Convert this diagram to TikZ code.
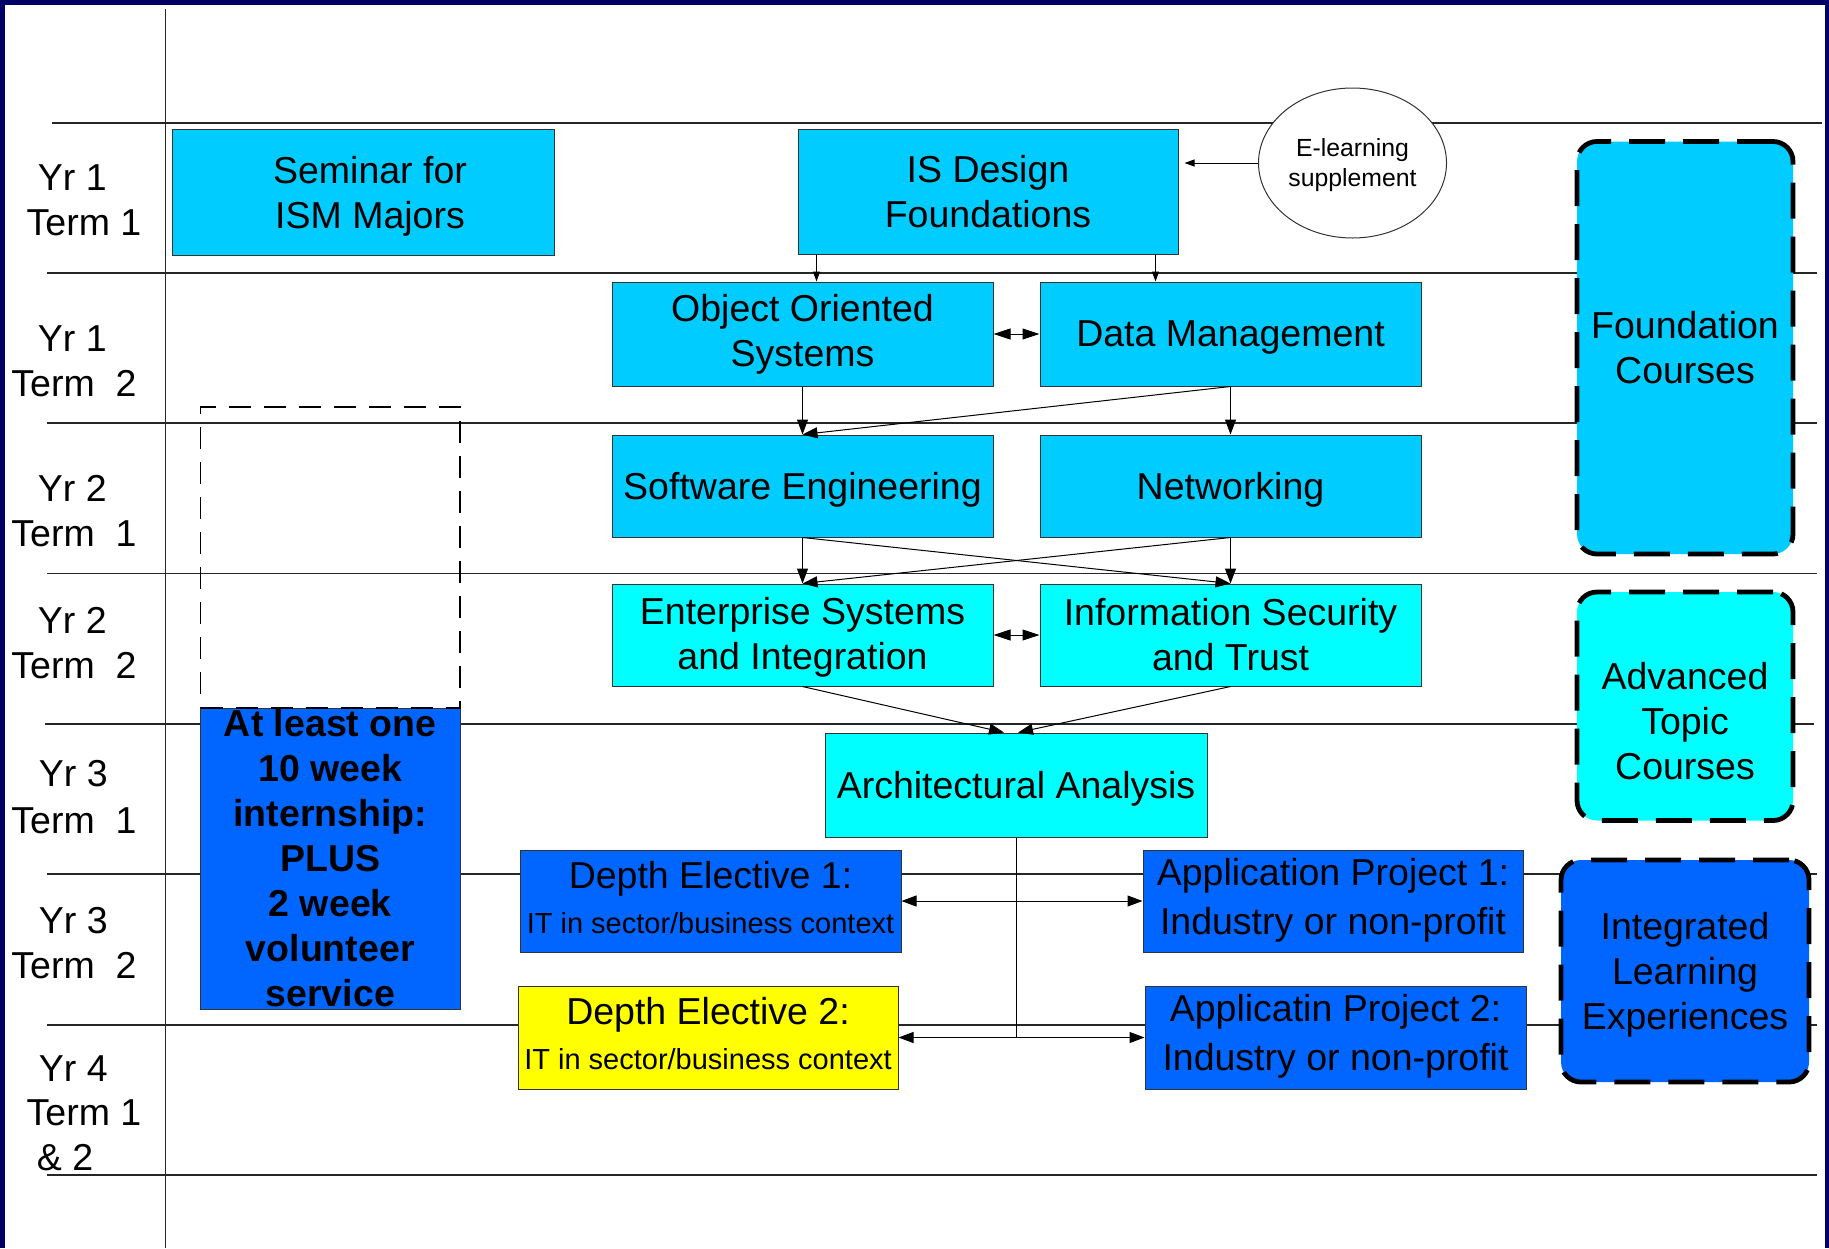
\documentclass[tikz,border=0pt]{standalone}
\usepackage{fontspec}
\setmainfont{Liberation Sans}
\usetikzlibrary{arrows.meta,shapes.geometric}
\definecolor{lblue}{HTML}{00CCFF}
\definecolor{cyanx}{HTML}{00FFFF}
\definecolor{bluex}{HTML}{0066FF}
\definecolor{yelx}{HTML}{FFFF00}
\definecolor{navyx}{HTML}{000066}
\newcommand\mainfs{\fontsize{18.75}{22.5}\selectfont}
\newcommand\smallfs{\fontsize{14.5}{24}\selectfont}
\newcommand\elfs{\fontsize{12.4}{15}\selectfont}
\tikzset{
  box/.style={draw=black!80, line width=0.5pt, inner sep=2pt, align=center, font=\mainfs},
  rbox/.style={draw=black, line width=2.4pt, dash pattern=on 18pt off 9pt, rounded corners=10pt, inner sep=2pt, align=center, font=\mainfs},
  hline/.style={draw=black!85, line width=0.9pt},
  conn/.style={draw=black, line width=0.5pt},
  arr/.style={conn, -{Triangle[length=7.5pt,width=5.5pt]}},
  darr/.style={conn, {Triangle[length=7.5pt,width=5.5pt]}-{Triangle[length=7.5pt,width=5.5pt]}},
  darrb/.style={conn, {Triangle[length=8.5pt,width=5.5pt]}-{Triangle[length=8.5pt,width=5.5pt]}},
  sarr/.style={conn, -{Triangle[length=5pt,width=3.5pt]}},
  lab/.style={anchor=base west, inner sep=0pt, font=\mainfs},
}
\begin{document}
\begin{tikzpicture}[x=0.5pt,y=-0.5pt]
\useasboundingbox (0,0) rectangle (1829,1248);
% frame
\fill[navyx] (0,0) rectangle (1829,1248);
\fill[white] (4.6,5) rectangle (1825,1248);
% grid lines
\draw[conn, draw=black!85] (165,9) -- (165,1248);
\draw[hline] (51.7,122.7) -- (1821.7,122.7);
\draw[hline] (47,272.7) -- (1816.7,272.7);
\draw[hline] (47,423.3) -- (1816.7,423.3);
\draw[hline] (47,573.5) -- (1816.7,573.5);
\draw[hline] (45,724) -- (1814,724);
\draw[hline] (47,874.3) -- (1816.7,874.3);
\draw[hline] (47,1025) -- (1816.7,1025);
\draw[hline] (47,1175.3) -- (1816.7,1175.3);
% left labels
\node[lab] (y1a) at (37.5,190.7) {Yr 1};
\node[lab] (t1a) at (26.3,235) {Term 1};
\node[lab] (y1b) at (37.5,351.7) {Yr 1};
\node[lab] (t1b) at (11,396.7) {Term\ \ 2};
\node[lab] (y2a) at (37.5,501.7) {Yr 2};
\node[lab] (t2a) at (11,546.7) {Term\ \ 1};
\node[lab] (y2b) at (37.5,633.3) {Yr 2};
\node[lab] (t2b) at (11,678.3) {Term\ \ 2};
\node[lab] (y3a) at (38.5,786.7) {Yr 3};
\node[lab] (t3a) at (11,833.3) {Term\ \ 1};
\node[lab] (y3b) at (38.5,933.3) {Yr 3};
\node[lab] (t3b) at (11,978.3) {Term\ \ 2};
\node[lab] (y4) at (38.5,1081.7) {Yr 4};
\node[lab] (t4) at (26.3,1125) {Term 1};
\node[lab] (t4b) at (36.5,1170) {\& 2};
% course boxes
\node[box, fill=lblue, minimum width=191pt, minimum height=63pt, text depth=0pt] (sem) at (363,192) {\hspace*{7pt}Seminar for\\\hspace*{7pt}ISM Majors};
\node[box, fill=lblue, minimum width=190pt, minimum height=62.5pt] (isd) at (988,191.5) {IS Design\\Foundations};
\node[draw=black!80, line width=0.5pt, fill=white, ellipse, minimum width=94pt, minimum height=75pt, inner sep=0pt, align=center, font=\elfs, text depth=0pt] (elearn) at (1352.5,163) {E-learning\\supplement};
\node[box, fill=lblue, minimum width=190.5pt, minimum height=52pt] (oo) at (802.5,334) {Object Oriented\\Systems};
\node[box, fill=lblue, minimum width=190.5pt, minimum height=52pt, text depth=0pt] (dm) at (1230.5,334) {Data Management};
\node[box, fill=lblue, minimum width=190.5pt, minimum height=51pt, text depth=0.5pt] (se) at (802.5,486) {Software Engineering};
\node[box, fill=lblue, minimum width=190.5pt, minimum height=51pt, text depth=0pt] (net) at (1230.5,486) {Networking};
\node[box, fill=cyanx, minimum width=190.5pt, minimum height=51pt, text depth=1.5pt] (ent) at (802.5,635) {Enterprise Systems\\and Integration};
\node[box, fill=cyanx, minimum width=190.5pt, minimum height=51pt] (isec) at (1230.5,635) {Information Security\\and Trust};
\node[box, fill=cyanx, minimum width=191pt, minimum height=52pt, text depth=0pt] (arch) at (1016,785) {Architectural Analysis};
\node[box, fill=bluex, minimum width=190.5pt, minimum height=51pt, text depth=3.7pt] (de1) at (710.5,901) {Depth Elective 1:\\\smallfs IT in sector/business context};
\node[box, fill=bluex, minimum width=190pt, minimum height=51pt, text depth=5pt] (ap1) at (1333,901) {Application Project 1:\\[2pt]Industry or non-profit};
\node[box, fill=yelx, minimum width=190pt, minimum height=51.5pt, text depth=3.7pt] (de2) at (708,1037.5) {Depth Elective 2:\\\smallfs IT in sector/business context};
\node[box, fill=bluex, minimum width=190.5pt, minimum height=51.5pt, text depth=5pt] (ap2) at (1335.5,1037.5) {Applicatin Project 2:\\[2pt]Industry or non-profit};
% internship
\node[box, fill=bluex, minimum width=129.75pt, minimum height=150.5pt] (intern) at (330.25,858.5) {};
\node[font=\bfseries\mainfs, align=center, inner sep=0pt] (internlbl) at (intern.center) {At least one\\10 week\\internship:\\PLUS\\2 week\\volunteer\\service};
\node[draw=black, line width=0.9pt, dash pattern=on 11pt off 6.5pt, minimum width=129.75pt, minimum height=150.5pt, inner sep=0pt] (gapbox) at (330.25,557.5) {};
% right legend boxes
\node[rbox, fill=lblue, minimum width=108pt, minimum height=206.25pt] (fc) at (1685,347.75) {Foundation\\Courses};
\node[rbox, fill=cyanx, minimum width=108pt, minimum height=114.25pt] (atc) at (1685,706.25) {};
\node[align=center, inner sep=0pt, font=\mainfs] (atclbl) at (1685,721) {Advanced\\Topic\\Courses};
\node[rbox, fill=bluex, minimum width=124pt, minimum height=111pt, text depth=0pt] (ile) at (1685,971) {Integrated\\Learning\\Experiences};
% connectors
\draw[sarr, shorten >=3pt] (elearn.west) -- (isd.east |- elearn.west);
\draw[sarr] ([xshift=9.5pt]isd.south west) -- ([xshift=9.5pt]isd.south west |- oo.north);
\draw[sarr] ([xshift=-11.5pt]isd.south east) -- ([xshift=-11.5pt]isd.south east |- dm.north);
\draw[darrb] (oo.east) -- (dm.west);
\draw[arr] (oo.south) -- (se.north);
\draw[arr] (dm.south) -- (net.north);
\draw[arr] (dm.south) -- (se.north);
\draw[arr] (se.south) -- (ent.north);
\draw[arr] (net.south) -- (isec.north);
\draw[arr] (se.south) -- (isec.north);
\draw[arr] (net.south) -- (ent.north);
\draw[darrb] (ent.east) -- (isec.west);
\draw[arr] (ent.south) -- ([xshift=-6pt]arch.north);
\draw[arr] (isec.south) -- ([xshift=1pt]arch.north);
\draw[conn] (arch.south) -- (arch.south |- de2.east);
\draw[darr] (de1.east) -- (ap1.west);
\draw[darr] (de2.east) -- (ap2.west);
\end{tikzpicture}
\end{document}
